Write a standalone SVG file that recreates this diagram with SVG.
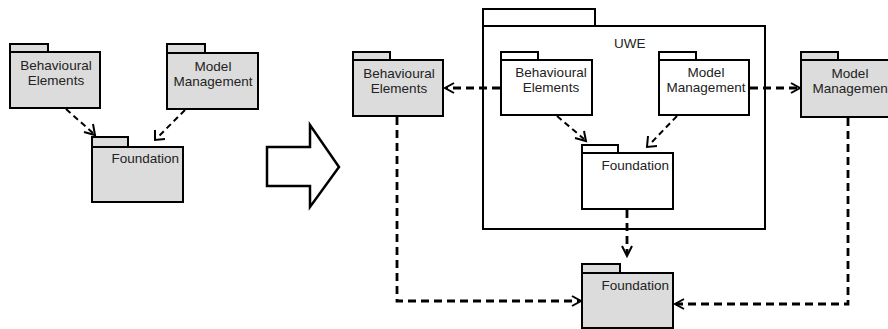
<svg xmlns="http://www.w3.org/2000/svg" width="888" height="329" viewBox="0 0 888 329">
<style>
.pk{stroke:#000;stroke-width:2;fill:#dcdcdc}
.pw{stroke:#000;stroke-width:2;fill:#fff}
text{font-family:"Liberation Sans",Arial,sans-serif;font-size:13.5px;fill:#222}
.c{text-anchor:middle}
.r{text-anchor:end}
.dt{fill:none;stroke:#000;stroke-width:2;stroke-dasharray:6,4}
.dk{fill:none;stroke:#000;stroke-width:2.8;stroke-dasharray:8,5}
.ah{fill:none;stroke:#000;stroke-width:2}
</style>
<rect width="888" height="329" fill="#fff"/>
<g id="left-behavioural">
<rect class="pk" x="10" y="44" width="38" height="8"/>
<rect class="pk" x="10" y="52" width="90" height="56"/>
<text class="c" x="56" y="70">Behavioural</text>
<text class="c" x="56" y="85">Elements</text>
</g>
<g id="left-model">
<rect class="pk" x="167" y="44" width="38" height="9"/>
<rect class="pk" x="167" y="53" width="91" height="56"/>
<text class="c" x="213" y="71">Model</text>
<text class="c" x="213" y="86">Management</text>
</g>
<g id="left-foundation">
<rect class="pk" x="92" y="137" width="36" height="10"/>
<rect class="pk" x="92" y="147" width="91" height="55"/>
<text class="r" x="179" y="163">Foundation</text>
</g>
<g id="transform-arrow">
<polygon points="267,147 310,147 310,125 339,167 310,207 310,186 267,186" fill="#fff" stroke="#000" stroke-width="2.5"/>
</g>
<g id="uwe">
<rect class="pw" x="483" y="9" width="112" height="17"/>
<rect class="pw" x="483" y="26" width="282" height="203"/>
<text x="614" y="48">UWE</text>
</g>
<g id="uwe-behavioural">
<rect class="pw" x="501" y="52" width="37" height="8"/>
<rect class="pw" x="501" y="60" width="91" height="55"/>
<text class="c" x="551" y="77">Behavioural</text>
<text class="c" x="551" y="92">Elements</text>
</g>
<g id="uwe-model">
<rect class="pw" x="659" y="52" width="37" height="8"/>
<rect class="pw" x="659" y="60" width="90" height="55"/>
<text class="c" x="706" y="77">Model</text>
<text class="c" x="706" y="92">Management</text>
</g>
<g id="uwe-foundation">
<rect class="pw" x="582" y="145" width="36" height="8"/>
<rect class="pw" x="582" y="153" width="91" height="56"/>
<text class="r" x="669" y="170">Foundation</text>
</g>
<g id="behavioural">
<rect class="pk" x="353" y="52" width="37" height="8"/>
<rect class="pk" x="353" y="60" width="90" height="56"/>
<text class="c" x="399" y="78">Behavioural</text>
<text class="c" x="399" y="93">Elements</text>
</g>
<g id="model">
<rect class="pk" x="801" y="52" width="37" height="8"/>
<rect class="pk" x="801" y="60" width="92" height="57"/>
<text class="c" x="850" y="78">Model</text>
<text class="c" x="852" y="93">Management</text>
</g>
<g id="foundation">
<rect class="pk" x="582" y="264" width="38" height="9"/>
<rect class="pk" x="582" y="273" width="91" height="55"/>
<text class="r" x="669" y="290">Foundation</text>
</g>
<g id="connectors">
<path class="dt" d="M66,109 L93,133"/>
<path class="ah" d="M84,132 L95,135 L93,124"/>
<path class="dt" d="M185,110 L158,137"/>
<path class="ah" d="M155,130 L155,140 L165,139"/>
<path class="dt" d="M557,116 L584,139"/>
<path class="ah" d="M575,138 L586,141 L584,131"/>
<path class="dt" d="M677,116 L651,143"/>
<path class="ah" d="M648,136 L647,147 L657,146"/>
<path class="dk" d="M500,88 L446,88"/>
<path class="ah" d="M454,83 L445,88 L454,93"/>
<path class="dk" d="M750,88 L798,88"/>
<path class="ah" d="M791,83 L800,88 L791,93"/>
<path class="dk" d="M627,210 L627,254"/>
<path class="ah" d="M622,246 L627,256 L632,246"/>
<path class="dk" d="M397,117 L397,301 L579,301"/>
<path class="ah" d="M572,296 L581,301 L572,306"/>
<path class="dk" d="M848,118 L848,304 L676,304"/>
<path class="ah" d="M684,299 L675,304 L684,309"/>
</g>
</svg>
